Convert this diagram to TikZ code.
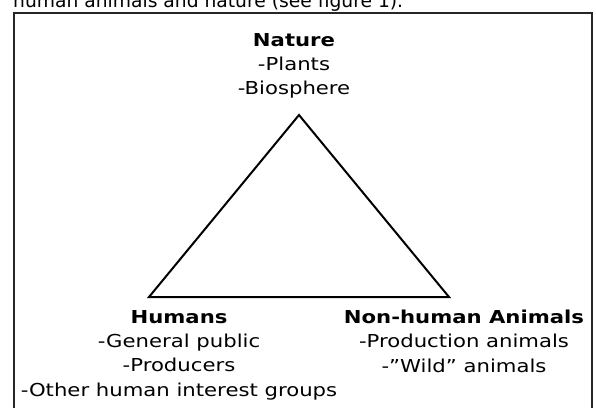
\documentclass[tikz,border=0pt]{standalone}
\usepackage{fontspec}
\setmainfont[FakeStretch=1.19]{DejaVu Sans}
\newfontfamily\bodyfont{DejaVu Sans}
\begin{document}
\begin{tikzpicture}[x=1pt,y=-1pt,
  lbl/.style={inner sep=0pt, align=center, font=\fontsize{17.8}{24.4}\selectfont, anchor=north},
  captxt/.style={inner sep=0pt, font=\bodyfont\fontsize{18.7}{22}\selectfont, anchor=base west},
  frame/.style={line width=2.6pt, black!85, line join=miter},
  tri/.style={line width=2pt, black, line join=miter}]
\useasboundingbox (0,0) rectangle (596,407);
\begin{scope}
\clip (0,0) rectangle (596,407);
\node[captxt] (cap) at (13,7) {human animals and nature (see figure 1).};
\draw[frame] (14,430) -- (14,13) -- (592,13) -- (592,430);
\end{scope}
\coordinate (A) at (299,115);
\coordinate (B) at (149,297);
\coordinate (C) at (449,297);
\draw[tri] (A) -- (B) -- (C) -- cycle;
\node[lbl] (nature) at (294,33) {\textbf{Nature}\\-Plants\\-Biosphere};
\node[lbl] (humans) at (179,310) {\textbf{Humans}\\-General public\\-Producers\\-Other human interest groups};
\node[lbl] (animals) at (464,309.5) {\textbf{Non-human Animals}\\-Production animals\\-”Wild” animals};
\end{tikzpicture}
\end{document}
